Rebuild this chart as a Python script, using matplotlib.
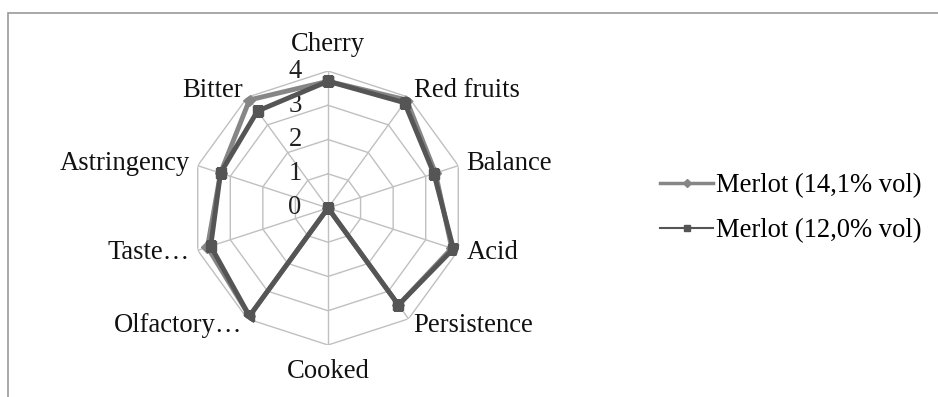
import numpy as np
import matplotlib.pyplot as plt
from matplotlib.lines import Line2D
from matplotlib.patches import Rectangle
from matplotlib.transforms import offset_copy

plt.rcParams['font.family'] = ['Liberation Serif', 'DejaVu Serif']

# sensory attributes, clockwise from the top
categories = ['Cherry', 'Red fruits', 'Balance', 'Acid', 'Persistence',
              'Cooked', 'Olfactory…', 'Taste…', 'Astringency', 'Bitter']
merlot_141 = [3.7, 3.9, 3.3, 3.8, 3.5, 0, 3.9, 3.7, 3.3, 3.9]
merlot_120 = [3.7, 3.8, 3.25, 3.85, 3.5, 0, 3.9, 3.6, 3.3, 3.5]
series_labels = ['Merlot (14,1% vol)', 'Merlot (12,0% vol)']
r_ticks = [0, 1, 2, 3, 4]

FS = 19.2
grid_col = '#c0c0c0'
col_141 = '#868686'
col_120 = '#555555'

fig = plt.figure(figsize=(9.38, 3.97), dpi=100)
fig.patch.set_facecolor('white')
fig.patches.append(Rectangle((8 / 938, -0.1), 1.2, 1 - 13 / 397 + 0.1,
                             transform=fig.transFigure, fill=False,
                             edgecolor='#9a9a9a', linewidth=1.2))

ax = fig.add_axes([191 / 938, 52 / 397, 274 / 938, 274 / 397], projection='polar')
ax.set_theta_offset(np.pi / 2)
ax.set_theta_direction(-1)
ax.set_ylim(0, 4)
ax.set_xticks([])
ax.set_yticks([])
ax.grid(False)
ax.spines['polar'].set_visible(False)
ax.patch.set_alpha(0)

n = len(categories)
theta = np.linspace(0, 2 * np.pi, n, endpoint=False)
theta_c = np.append(theta, theta[0])

# decagon rings and spokes
for r in r_ticks[1:]:
    ax.plot(theta_c, [r] * (n + 1), color=grid_col, lw=1, zorder=1)
for t in theta:
    ax.plot([t, t], [0, 4], color=grid_col, lw=1, zorder=1)

# radial tick labels left of the top spoke
tick_tr = offset_copy(ax.transData, fig=fig, x=-33, y=0, units='dots')
for r in r_ticks:
    ax.text(0, r, str(r), transform=tick_tr, ha='center', va='center',
            fontsize=FS, color='#222222')

# category labels
for t, name in zip(theta, categories):
    s = np.sin(t)
    c = np.cos(t)
    if abs(s) < 1e-6:
        ax.text(t, 4.4, name, ha='center', va='bottom' if c > 0 else 'top',
                fontsize=FS, color='#111111')
    else:
        ax.text(t, 4.25, name, ha='left' if s > 0 else 'right', va='center',
                fontsize=FS, color='#111111')

ax.plot(theta_c, merlot_141 + merlot_141[:1], color=col_141, lw=3.5,
        marker='D', ms=6, zorder=3)
ax.plot(theta_c, merlot_120 + merlot_120[:1], color=col_120, lw=3.5,
        marker='s', ms=7, zorder=4)

handles = [Line2D([], [], color=col_141, lw=2.5, marker='D', ms=4),
           Line2D([], [], color=col_120, lw=1.5, marker='s', ms=5)]
fig.legend(handles, series_labels, loc='center left',
           bbox_to_anchor=(660 / 938, 1 - 208 / 397), frameon=False,
           fontsize=FS, handlelength=2.0, handletextpad=0.1, labelspacing=0.75,
           borderaxespad=0, borderpad=0)

fig.savefig('out.png', dpi=100, facecolor='white')
